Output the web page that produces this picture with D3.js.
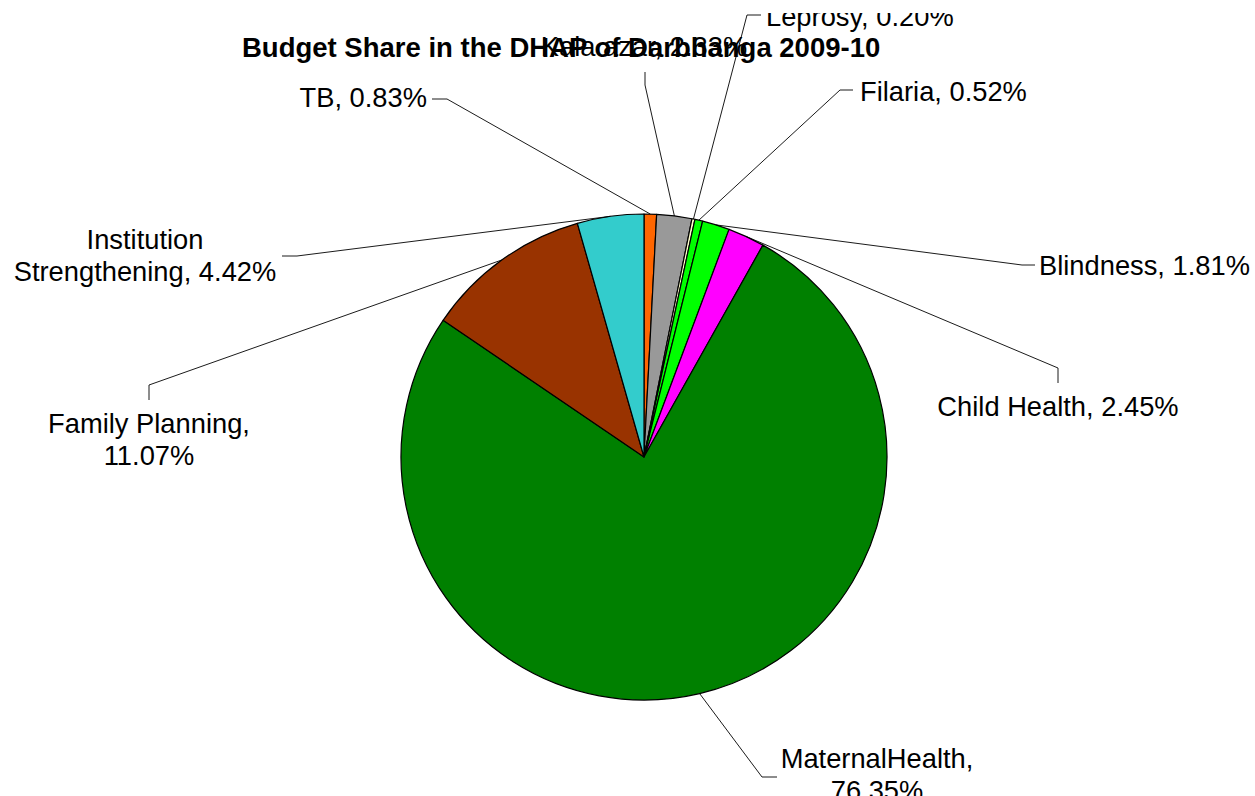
<!DOCTYPE html>
<html>
<head>
<meta charset="utf-8">
<script src="https://cdn.jsdelivr.net/npm/d3@7"></script>
<style>
  html, body { margin: 0; padding: 0; background: #ffffff; }
  svg { display: block; }
  text { font-family: "Liberation Sans", Arial, sans-serif; fill: #000; }
</style>
</head>
<body>
<script>
// ---- data ----
const categories = ["TB", "Kala azar", "Leprosy", "Filaria", "Blindness", "Child Health", "MaternalHealth", "Family Planning", "Institution Strengthening"];
const shares = [0.83, 2.33, 0.20, 0.52, 1.81, 2.45, 76.35, 11.07, 4.42];
const sliceColors = ["#FF6600", "#999999", "#FFFFCC", "#00FF00", "#00FF00", "#FF00FF", "#008000", "#993300", "#33CCCC"];
const labelLines = [
  ["TB, 0.83%"],
  ["Kala azar, 2.33%"],
  ["Leprosy, 0.20%"],
  ["Filaria, 0.52%"],
  ["Blindness, 1.81%"],
  ["Child Health, 2.45%"],
  ["MaternalHealth,", "76.35%"],
  ["Family Planning,", "11.07%"],
  ["Institution", "Strengthening, 4.42%"]
];
const title = "Budget Share in the DHAP of Darbhanga 2009-10";

// ---- layout (positions of labels, leader elbows) ----
const W = 1255, H = 796;
const cx = 644, cy = 457, R = 243;
const labelLayout = [
  { x: 427,  y: 107, anchor: "end",    elbow: [[447, 99], [432, 99]] },
  { x: 644,  y: 56,  anchor: "middle", elbow: [[645, 85], [645, 72]] },
  { x: 766,  y: 26,  anchor: "start",  elbow: [[747, 15], [761, 15]] },
  { x: 860,  y: 101, anchor: "start",  elbow: [[840, 90], [853, 90]] },
  { x: 1039, y: 275, anchor: "start",  elbow: [[1022, 265], [1035, 265]] },
  { x: 1058, y: 416, anchor: "middle", elbow: [[1058, 368], [1058, 383]] },
  { x: 877,  y: 768, anchor: "middle", elbow: [[762, 777], [777, 777]] },
  { x: 149,  y: 433, anchor: "middle", elbow: [[149, 385], [149, 400]] },
  { x: 145,  y: 249, anchor: "middle", elbow: [[297, 256], [282, 256]] }
];
const lineGap = 32;

const svg = d3.select("body").append("svg")
  .attr("width", W).attr("height", H);

svg.append("defs").append("clipPath").attr("id", "clip")
  .append("rect").attr("x", 0).attr("y", 13).attr("width", W).attr("height", H - 13);

const root = svg.append("g").attr("clip-path", "url(#clip)");

const data = categories.map((c, i) => ({ name: c, value: shares[i], color: sliceColors[i], lines: labelLines[i], lay: labelLayout[i] }));

const pie = d3.pie().value(d => d.value).sort(null).startAngle(0).endAngle(2 * Math.PI);
const arcs = pie(data);
const arc = d3.arc().innerRadius(0).outerRadius(R);
const edge = d3.arc().innerRadius(R).outerRadius(R);

const pieG = root.append("g").attr("transform", `translate(${cx},${cy})`);
pieG.selectAll("path.slice").data(arcs).join("path")
  .attr("class", "slice")
  .attr("d", arc)
  .attr("fill", d => d.data.color)
  .attr("stroke", "#000")
  .attr("stroke-width", 1.2)
  .attr("stroke-linejoin", "round");

// leader lines
const lineGen = d3.line();
root.selectAll("path.leader").data(arcs).join("path")
  .attr("class", "leader")
  .attr("d", d => {
    const c = edge.centroid(d);
    const p0 = [cx + c[0], cy + c[1]];
    return lineGen([p0].concat(d.data.lay.elbow));
  })
  .attr("fill", "none")
  .attr("stroke", "#000")
  .attr("stroke-width", 0.9);

// title
root.append("text")
  .attr("x", 242).attr("y", 57)
  .attr("text-anchor", "start")
  .style("font-size", "27.5px")
  .style("font-weight", "bold")
  .text(title);

// labels
const lab = root.selectAll("text.lab").data(data).join("text")
  .attr("class", "lab")
  .attr("text-anchor", d => d.lay.anchor)
  .style("font-size", "27.3px");
lab.each(function(d) {
  const t = d3.select(this);
  d.lines.forEach((ln, k) => {
    t.append("tspan")
      .attr("x", d.lay.x)
      .attr("y", d.lay.y + k * lineGap)
      .text(ln);
  });
});
</script>
</body>
</html>
